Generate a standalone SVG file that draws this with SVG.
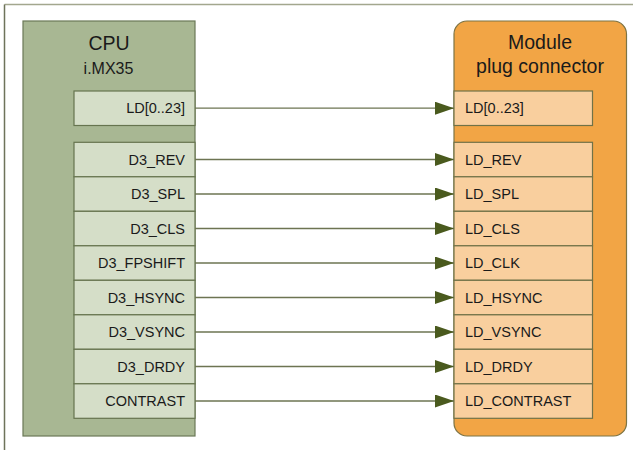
<svg xmlns="http://www.w3.org/2000/svg" width="633" height="450" viewBox="0 0 633 450">
<defs>
<style>
.frame{stroke:#a3a78e;stroke-width:1.5;fill:none}
.frameL{stroke:#6e735a;stroke-width:1.5;fill:none}
.cpu{fill:#a8b793;stroke:#6b7957;stroke-width:1.2}
.cpuIn{fill:#d5dec8;stroke:#66744f;stroke-width:1.2}
.mod{fill:#f2a545;stroke:#7d7445;stroke-width:1.2}
.modIn{fill:#f9cf9e;stroke:#707247;stroke-width:1.2}
.title{font-family:"Liberation Sans",Arial,sans-serif;font-size:19.5px;fill:#1a1a1a;text-anchor:middle}
.sub{font-family:"Liberation Sans",Arial,sans-serif;font-size:16px;fill:#1a1a1a;text-anchor:middle}
.lbl{font-family:"Liberation Sans",Arial,sans-serif;font-size:14.5px;fill:#1a1a1a}
.l{text-anchor:end}
.r{text-anchor:start}
.wire{stroke:#6d7452;stroke-width:1.3;fill:none;marker-end:url(#ah)}
</style>
<marker id="ah" markerWidth="20" markerHeight="13" refX="19" refY="6.5" orient="auto" markerUnits="userSpaceOnUse">
<path d="M0,0 L19,6.5 L0,13 Z" fill="#4a5a1e"/>
</marker>
</defs>
<rect width="633" height="450" fill="#ffffff"/>
<g id="frame">
<line class="frame" x1="4.5" y1="4.5" x2="633" y2="4.5"/>
<line class="frameL" x1="4.5" y1="4.5" x2="4.5" y2="450"/>
</g>
<g id="cpu">
<rect class="cpu" x="23" y="21" width="172" height="415"/>
<text class="title" x="109" y="50">CPU</text>
<text class="sub" x="108.5" y="73.5">i.MX35</text>
</g>
<g id="cpu-ports">
<rect class="cpuIn" x="74" y="91" width="121" height="34.5"/>
<text class="lbl l" x="185" y="113.3">LD[0..23]</text>
<rect class="cpuIn" x="74" y="142.3" width="121" height="34.5"/>
<text class="lbl l" x="185" y="164.5">D3_REV</text>
<rect class="cpuIn" x="74" y="176.8" width="121" height="34.5"/>
<text class="lbl l" x="185" y="199">D3_SPL</text>
<rect class="cpuIn" x="74" y="211.3" width="121" height="34.5"/>
<text class="lbl l" x="185" y="233.5">D3_CLS</text>
<rect class="cpuIn" x="74" y="245.8" width="121" height="34.5"/>
<text class="lbl l" x="185" y="268">D3_FPSHIFT</text>
<rect class="cpuIn" x="74" y="280.3" width="121" height="34.5"/>
<text class="lbl l" x="185" y="302.5">D3_HSYNC</text>
<rect class="cpuIn" x="74" y="314.8" width="121" height="34.5"/>
<text class="lbl l" x="185" y="337">D3_VSYNC</text>
<rect class="cpuIn" x="74" y="349.3" width="121" height="34.5"/>
<text class="lbl l" x="185" y="371.5">D3_DRDY</text>
<rect class="cpuIn" x="74" y="383.8" width="121" height="34.5"/>
<text class="lbl l" x="185" y="406">CONTRAST</text>
</g>
<g id="module">
<rect class="mod" x="454" y="21" width="172.5" height="415" rx="13" ry="13"/>
<text class="title" x="540" y="49">Module</text>
<text class="title" x="540" y="72.5">plug connector</text>
</g>
<g id="module-ports">
<rect class="modIn" x="454" y="91" width="138.5" height="34.5"/>
<text class="lbl r" x="465" y="113.3">LD[0..23]</text>
<rect class="modIn" x="454" y="142.3" width="138.5" height="34.5"/>
<text class="lbl r" x="465" y="164.5">LD_REV</text>
<rect class="modIn" x="454" y="176.8" width="138.5" height="34.5"/>
<text class="lbl r" x="465" y="199">LD_SPL</text>
<rect class="modIn" x="454" y="211.3" width="138.5" height="34.5"/>
<text class="lbl r" x="465" y="233.5">LD_CLS</text>
<rect class="modIn" x="454" y="245.8" width="138.5" height="34.5"/>
<text class="lbl r" x="465" y="268">LD_CLK</text>
<rect class="modIn" x="454" y="280.3" width="138.5" height="34.5"/>
<text class="lbl r" x="465" y="302.5">LD_HSYNC</text>
<rect class="modIn" x="454" y="314.8" width="138.5" height="34.5"/>
<text class="lbl r" x="465" y="337">LD_VSYNC</text>
<rect class="modIn" x="454" y="349.3" width="138.5" height="34.5"/>
<text class="lbl r" x="465" y="371.5">LD_DRDY</text>
<rect class="modIn" x="454" y="383.8" width="138.5" height="34.5"/>
<text class="lbl r" x="465" y="406">LD_CONTRAST</text>
</g>
<g id="connectors">
<line class="wire" x1="195" y1="108.2" x2="454" y2="108.2"/>
<line class="wire" x1="195" y1="159.5" x2="454" y2="159.5"/>
<line class="wire" x1="195" y1="194" x2="454" y2="194"/>
<line class="wire" x1="195" y1="228.5" x2="454" y2="228.5"/>
<line class="wire" x1="195" y1="263" x2="454" y2="263"/>
<line class="wire" x1="195" y1="297.5" x2="454" y2="297.5"/>
<line class="wire" x1="195" y1="332" x2="454" y2="332"/>
<line class="wire" x1="195" y1="366.5" x2="454" y2="366.5"/>
<line class="wire" x1="195" y1="401" x2="454" y2="401"/>
</g>
</svg>
